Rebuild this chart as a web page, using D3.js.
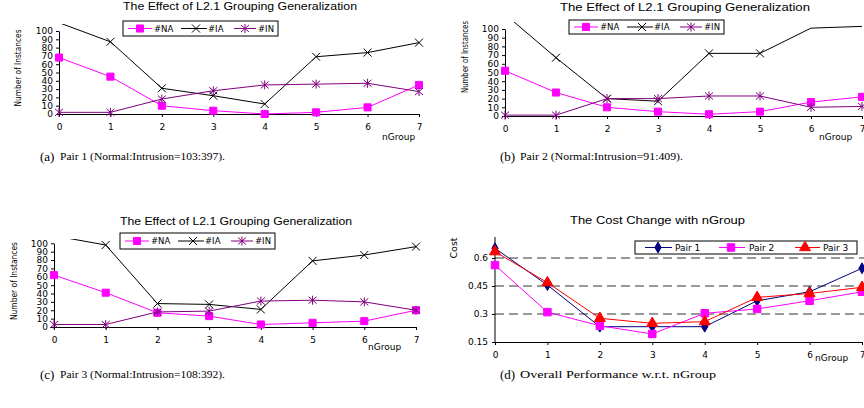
<!DOCTYPE html>
<html>
<head>
<meta charset="utf-8">
<script src="https://cdn.jsdelivr.net/npm/d3@7/dist/d3.min.js"></script>
<style>
    body { margin: 0; background: #fff; }
    text { font-family: "DejaVu Sans", Helvetica, sans-serif; fill: #000; }
    .ttl { font-family: "Liberation Sans", Arial, sans-serif; }
    .cap { font-family: "Liberation Serif", "DejaVu Serif", serif; }
</style>
</head>
<body>
<svg id="vis" width="864" height="408"></svg>
<script>
// x categories
var groups = [0, 1, 2, 3, 4, 5, 6, 7];
var countTicks = [0, 10, 20, 30, 40, 50, 60, 70, 80, 90, 100];
var costTicks = [0.15, 0.3, 0.45, 0.6];
var costGrid = [0.3, 0.45, 0.6];

// (a) pair 1
var p1NA = [68, 45, 10, 4, 0, 2, 8, 35];
var p1IA = [110, 87, 31, 22, 12, 69, 74, 86];
var p1IN = [2, 2, 18, 28, 35, 36, 37, 27];
// (b) pair 2
var p2NA = [52, 27, 10, 5, 2, 5, 16, 22];
var p2IA = [117, 67, 20, 17, 72, 72, 101, 103];
var p2IN = [1, 1, 20, 20, 23, 23, 10, 11];
// (c) pair 3
var p3NA = [62, 41, 17, 13, 3, 5, 7, 20];
var p3IA = [109, 98, 28, 27, 21, 79, 86, 96];
var p3IN = [3, 3, 18, 19, 31, 32, 30, 20];
// (d) cost
var costP1 = [0.652, 0.455, 0.232, 0.232, 0.232, 0.371, 0.419, 0.545];
var costP2 = [0.562, 0.31, 0.237, 0.193, 0.304, 0.327, 0.371, 0.419];
var costP3 = [0.634, 0.468, 0.277, 0.25, 0.259, 0.389, 0.41, 0.443];

var countNames = ["#NA", "#IA", "#IN"];
var pairNames = ["Pair 1", "Pair 2", "Pair 3"];
var titleCount = "The Effect of L2.1 Grouping Generalization";
var titleCost = "The Cost Change with nGroup";

var svg = d3.select("#vis");

// marker shapes
var markers = {
    square: d3.symbol(d3.symbolSquare, 50)(),
    square2: d3.symbol(d3.symbolSquare, 56)(),
    cross: "M-4,-4L4,4M-4,4L4,-4",
    star: "M-4,-3.5L4,3.5M-4,3.5L4,-3.5M0,-4.5L0,4.5",
    diamond: d3.symbol(d3.symbolDiamond, 34)(),
    triangle: d3.symbol(d3.symbolTriangle, 52)()
};

function drawMarker(g, shape, color, x, y) {
    var filled = shape !== "cross" && shape !== "star";
    g.append("path")
        .attr("d", markers[shape])
        .attr("transform", "translate(" + x + "," + y + ")")
        .attr("fill", filled ? color : "none")
        .attr("stroke", color)
        .attr("stroke-width", 1);
}

function drawTitle(txt, x1, x2, y) {
    svg.append("text")
        .attr("class", "ttl")
        .attr("x", (x1 + x2) / 2).attr("y", y)
        .attr("text-anchor", "middle")
        .attr("font-size", 10)
        .attr("textLength", x2 - x1)
        .attr("lengthAdjust", "spacingAndGlyphs")
        .text(txt);
}

function styleAxis(g) {
    g.selectAll("path.domain").attr("stroke", "#000").attr("stroke-width", 1);
    g.selectAll(".tick line").attr("stroke", "#000");
    g.selectAll(".tick text").attr("fill", "#000").style("font-family", "DejaVu Sans, sans-serif");
}

// panels (a)-(c)
function drawCountPanel(cfg) {
    var x = d3.scaleLinear().domain([0, 7]).range([cfg.x0, cfg.x7]);
    var y = d3.scaleLinear().domain([0, 100]).range([cfg.y0, cfg.y100]);

    drawTitle(titleCount, cfg.tx1, cfg.tx2, cfg.ty);

    var xa = svg.append("g")
        .attr("transform", "translate(0," + cfg.y0 + ")")
        .call(d3.axisBottom(x).tickValues(groups).tickFormat(d3.format("d"))
            .tickSize(3).tickSizeOuter(0).tickPadding(cfg.xpad))
        .attr("font-size", 9);
    styleAxis(xa);

    var ya = svg.append("g")
        .attr("transform", "translate(" + cfg.x0 + ",0)")
        .call(d3.axisLeft(y).tickValues(countTicks).tickSize(3).tickSizeOuter(0).tickPadding(3))
        .attr("font-size", 9);
    styleAxis(ya);

    svg.append("text")
        .attr("transform", "translate(" + cfg.lx + "," + cfg.ly + ") rotate(-90)")
        .attr("text-anchor", "middle")
        .attr("font-size", 8.5)
        .attr("textLength", cfg.llen)
        .attr("lengthAdjust", "spacingAndGlyphs")
        .text("Number of Instances");

    svg.append("text")
        .attr("x", cfg.nx).attr("y", cfg.ny)
        .attr("font-size", 9)
        .text("nGroup");

    var clipId = "clip" + cfg.id;
    svg.append("clipPath").attr("id", clipId)
        .append("rect")
        .attr("x", cfg.x0 - 8).attr("y", cfg.clipTop)
        .attr("width", cfg.x7 - cfg.x0 + 16)
        .attr("height", cfg.y0 - cfg.clipTop + 8);

    var plot = svg.append("g").attr("clip-path", "url(#" + clipId + ")");
    var line = d3.line().x(function (d, i) { return x(groups[i]); }).y(function (d) { return y(d); });

    var series = [
        { vals: cfg.na, color: "#ff00ff", shape: "square" },
        { vals: cfg.ia, color: "#000000", shape: "cross" },
        { vals: cfg.inn, color: "#800080", shape: "star" }
    ];
    series.forEach(function (s) {
        plot.append("path").datum(s.vals)
            .attr("d", line)
            .attr("fill", "none")
            .attr("stroke", s.color)
            .attr("stroke-width", 1);
        s.vals.forEach(function (v, i) {
            if (v <= 100) drawMarker(plot, s.shape, s.color, x(groups[i]), y(v));
        });
    });

    // legend
    var lg = svg.append("g").attr("transform", "translate(" + cfg.bx + "," + cfg.by + ")");
    lg.append("rect").attr("width", 155).attr("height", cfg.bh)
        .attr("fill", "#fff").attr("stroke", "#000").attr("stroke-width", 1);
    var cy = cfg.bh / 2;
    var slots = [[5, 29, 17, 31], [58, 84, 73, 85], [111, 133, 122, 135]];
    series.forEach(function (s, i) {
        var sl = slots[i];
        lg.append("line").attr("x1", sl[0]).attr("x2", sl[1]).attr("y1", cy).attr("y2", cy)
            .attr("stroke", s.color).attr("stroke-width", 1);
        drawMarker(lg, s.shape, s.color, sl[2], cy);
        lg.append("text").attr("x", sl[3]).attr("y", cy + 3.2)
            .attr("font-size", 8.5).text(countNames[i]);
    });
}

drawCountPanel({
    id: "a", x0: 59, x7: 419, y0: 114, y100: 31, clipTop: 24,
    tx1: 123, tx2: 357, ty: 10, xpad: 7,
    lx: 21, ly: 68, llen: 77, nx: 382, ny: 140,
    bx: 123, by: 21, bh: 15,
    na: p1NA, ia: p1IA, inn: p1IN
});
drawCountPanel({
    id: "b", x0: 505, x7: 862, y0: 116, y100: 29, clipTop: 22,
    tx1: 560, tx2: 810, ty: 11, xpad: 7,
    lx: 468, ly: 57, llen: 72, nx: 819, ny: 140,
    bx: 569, by: 20, bh: 14,
    na: p2NA, ia: p2IA, inn: p2IN
});
drawCountPanel({
    id: "c", x0: 54, x7: 416, y0: 327, y100: 243.3, clipTop: 239,
    tx1: 120, tx2: 352, ty: 224.5, xpad: 7,
    lx: 17, ly: 281, llen: 78, nx: 368, ny: 350,
    bx: 120, by: 233, bh: 16,
    na: p3NA, ia: p3IA, inn: p3IN
});

// panel (d)
(function () {
    var x = d3.scaleLinear().domain([0, 7]).range([495, 862]);
    var y = d3.scaleLinear().domain([0.15, 0.6]).range([342, 258]);
    var yTop = 237;

    drawTitle(titleCost, 570, 745, 224);

    costGrid.forEach(function (v) {
        svg.append("line")
            .attr("x1", 495).attr("x2", 864)
            .attr("y1", y(v)).attr("y2", y(v))
            .attr("stroke", "#000").attr("stroke-width", 0.8)
            .attr("stroke-dasharray", "9,5");
    });

    var xa = svg.append("g")
        .attr("transform", "translate(0,342)")
        .call(d3.axisBottom(x).tickValues(groups).tickFormat(d3.format("d"))
            .tickSize(3).tickSizeOuter(0).tickPadding(7))
        .attr("font-size", 9);
    styleAxis(xa);

    var ya = svg.append("g").attr("transform", "translate(495,0)");
    ya.call(d3.axisLeft(y).tickValues(costTicks).tickFormat(function (d) { return String(d); })
        .tickSize(3).tickSizeOuter(0).tickPadding(4))
        .attr("font-size", 9);
    ya.select("path.domain").remove();
    ya.append("line").attr("x1", 0).attr("x2", 0).attr("y1", yTop).attr("y2", 342)
        .attr("stroke", "#000").attr("stroke-width", 1);
    styleAxis(ya);

    svg.append("text")
        .attr("transform", "translate(457,248) rotate(-90)")
        .attr("text-anchor", "middle")
        .attr("font-size", 9.5)
        .text("Cost");

    svg.append("text").attr("x", 815).attr("y", 361)
        .attr("font-size", 9).text("nGroup");

    var line = d3.line().x(function (d, i) { return x(groups[i]); }).y(function (d) { return y(d); });
    var series = [
        { vals: costP1, color: "#000080", shape: "diamond" },
        { vals: costP2, color: "#ff00ff", shape: "square2" },
        { vals: costP3, color: "#ff0000", shape: "triangle" }
    ];
    series.forEach(function (s) {
        svg.append("path").datum(s.vals)
            .attr("d", line).attr("fill", "none")
            .attr("stroke", s.color).attr("stroke-width", 1);
        s.vals.forEach(function (v, i) {
            drawMarker(svg, s.shape, s.color, x(groups[i]), y(v));
        });
    });

    var lg = svg.append("g").attr("transform", "translate(635,241)");
    lg.append("rect").attr("width", 222).attr("height", 13)
        .attr("fill", "#fff").attr("stroke", "#000").attr("stroke-width", 1);
    var slots = [[10, 37, 23, 40], [84, 110, 96, 114], [160, 185, 170, 188]];
    series.forEach(function (s, i) {
        var sl = slots[i];
        lg.append("line").attr("x1", sl[0]).attr("x2", sl[1]).attr("y1", 6.5).attr("y2", 6.5)
            .attr("stroke", s.color).attr("stroke-width", 1);
        drawMarker(lg, s.shape, s.color, sl[2], 6.5);
        lg.append("text").attr("x", sl[3]).attr("y", 9.8)
            .attr("font-size", 9).text(pairNames[i]);
    });
})();

// sub-figure captions
var captions = [
    { tag: "(a)", text: "Pair 1 (Normal:Intrusion=103:397).", x: 40, y: 160, end: 225 },
    { tag: "(b)", text: "Pair 2 (Normal:Intrusion=91:409).", x: 500, y: 160, end: 683 },
    { tag: "(c)", text: "Pair 3 (Normal:Intrusion=108:392).", x: 40, y: 378, end: 225 },
    { tag: "(d)", text: "Overall Performance w.r.t. nGroup", x: 500, y: 378, end: 716 }
];
captions.forEach(function (c) {
    svg.append("text").attr("class", "cap")
        .attr("x", c.x).attr("y", c.y + 1)
        .attr("font-size", 13).text(c.tag);
    svg.append("text").attr("class", "cap")
        .attr("x", c.x + 20).attr("y", c.y)
        .attr("font-size", 10.5)
        .attr("textLength", c.end - c.x - 20)
        .attr("lengthAdjust", "spacingAndGlyphs")
        .text(c.text);
});
</script>
</body>
</html>
